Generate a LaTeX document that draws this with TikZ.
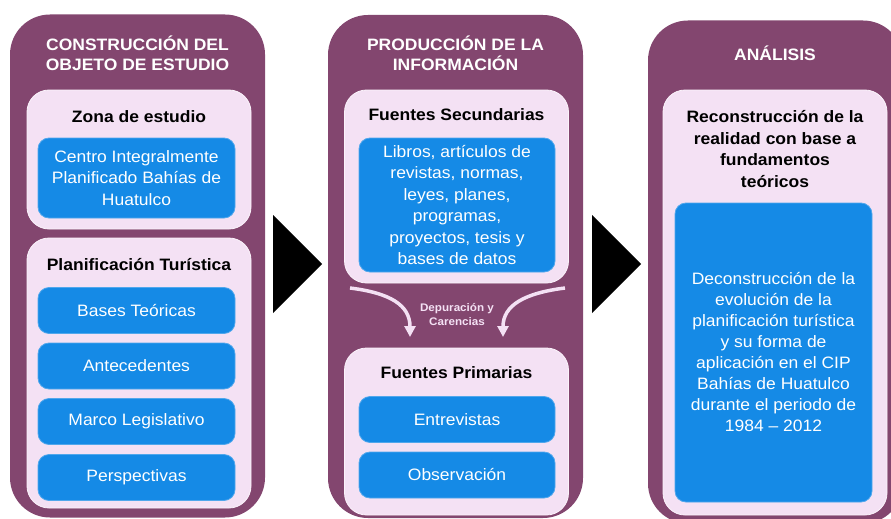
\documentclass[tikz,border=0pt]{standalone}
\usepackage{fontspec}
\setmainfont{Liberation Sans}[FakeStretch=1.06]
\usetikzlibrary{arrows.meta}
\definecolor{morado}{HTML}{83466F}
\definecolor{rosa}{HTML}{F4E1F4}
\definecolor{azul}{HTML}{158AE6}

\begin{document}
\begin{tikzpicture}[
		x=1pt, y=-1pt,
		every node/.style={align=center, inner sep=0pt, font=\fontsize{16.5}{21.4}\selectfont},
		col/.style={rectangle, rounded corners=40pt, fill=morado, minimum width=255pt, minimum height=503pt},
		panel/.style={rectangle, rounded corners=22pt, fill=rosa, draw=white!60!rosa, line width=0.8pt, minimum width=224pt},
		item/.style={rectangle, rounded corners=11pt, fill=azul, draw=azul!75!white, line width=0.8pt, text=white, minimum width=197pt, minimum height=46pt},
		head/.style={text=white, font=\fontsize{16.5}{20}\selectfont\bfseries},
		sub/.style={font=\fontsize{16.5}{21.4}\selectfont\bfseries}
	]
  \clip (0, 0) rectangle (891, 519);
  \node (col_1) [col] at (137.5, 266) {};
  \node (col_2) [col] at (455.5, 266.5) {};
  \node (col_3) [col] at (775.5, 272) {};
  \node (col_1_label) [head] at (137.5, 53) {CONSTRUCCIÓN DEL\\OBJETO DE ESTUDIO};
  \node (col_2_label) [head] at (455.5, 53) {PRODUCCIÓN DE LA\\INFORMACIÓN};
  \node (col_3_label) [head] at (775, 53) {ANÁLISIS};
  \fill (273, 215) -- (273, 313) -- (322, 264) -- cycle;
  \fill (592, 215) -- (592, 313) -- (641, 264) -- cycle;
  \node (zona) [panel, minimum height=139pt] at (139, 159.5) {};
  \node (plan) [panel, minimum height=270pt] at (139, 373) {};
  \node (sec) [panel, minimum height=193pt] at (456.5, 186.5) {};
  \node (prim) [panel, minimum height=167pt] at (456.5, 431.5) {};
  \node (real) [panel, minimum height=425pt] at (775, 302.5) {};
  \node (zona_label) [sub] at (139, 117) {Zona de estudio};
  \node (plan_label) [sub] at (139, 265) {Planificación Turística};
  \node (sec_label) [sub] at (456.5, 115) {Fuentes Secundarias};
  \node (prim_label) [sub] at (456.5, 373) {Fuentes Primarias};
  \node (real_label) [sub] at (775, 149) {Reconstrucción de la\\realidad con base a\\fundamentos\\teóricos};
  \node (cip) [item, minimum height=80pt] at (136.5, 178) {Centro Integralmente\\Planificado Bahías de\\Huatulco};
  \node (bases) [item] at (136.5, 310.5) {Bases Teóricas};
  \node (antec) [item] at (136.5, 366) {Antecedentes};
  \node (marco) [item] at (136.5, 421.5) {Marco Legislativo};
  \node (persp) [item] at (136.5, 477.5) {Perspectivas};
  \node (libros) [item, minimum width=196pt, minimum height=134pt] at (457, 205) {Libros, artículos de\\revistas, normas,\\leyes, planes,\\programas,\\proyectos, tesis y\\bases de datos};
  \node (entrev) [item, minimum width=196pt] at (457, 419.5) {Entrevistas};
  \node (obs) [item, minimum width=196pt] at (457, 475) {Observación};
  \node (decon) [item, minimum height=299pt, font=\fontsize{16.5}{21}\selectfont] at (773.5, 352.5) {Deconstrucción de la\\evolución de la\\planificación turística\\y su forma de\\aplicación en el CIP\\Bahías de Huatulco\\durante el periodo de\\1984 – 2012};
  \coordinate (dep_l_a) at (350, 288);
  \coordinate (dep_l_b) at (410, 337);
  \coordinate (dep_r_a) at (565, 288);
  \coordinate (dep_r_b) at (503, 337);
  \draw [rosa, line width=3.5pt, -{Triangle[width=11pt, length=11pt]}] (dep_l_a) .. controls (390, 293) and (410, 305) .. (dep_l_b);
  \draw [rosa, line width=3.5pt, -{Triangle[width=11pt, length=11pt]}] (dep_r_a) .. controls (525, 293) and (503, 305) .. (dep_r_b);
  \node (dep_label) [text=rosa, font=\fontsize{11}{14}\selectfont\bfseries] at (457, 315) {Depuración y\\Carencias};
\end{tikzpicture}
\end{document}
